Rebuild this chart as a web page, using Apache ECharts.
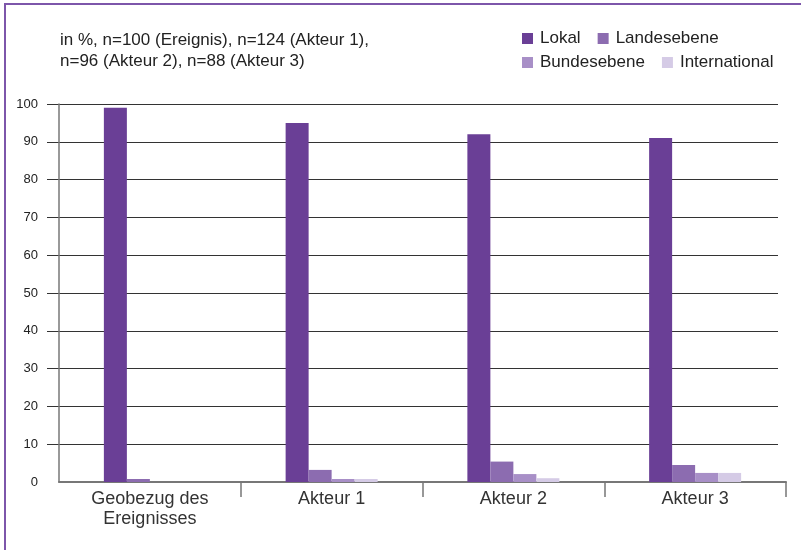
<!DOCTYPE html>
<html><head><meta charset="utf-8">
<script src="https://cdn.jsdelivr.net/npm/echarts@6/dist/echarts.min.js"></script>
<style>html,body{margin:0;padding:0;background:#fff}#c{width:801px;height:550px}</style>
</head><body><div id="c"></div>
<script>
const categories = ['Geobezug des\nEreignisses', 'Akteur 1', 'Akteur 2', 'Akteur 3'];
const seriesNames = ['Lokal', 'Landesebene', 'Bundesebene', 'International'];
const lokal = [99, 95, 92, 91];
const landesebene = [0.8, 3.2, 5.4, 4.5];
const bundesebene = [0, 0.8, 2.1, 2.4];
const international = [0, 0.8, 1.0, 2.4];
const yTicks = [0, 10, 20, 30, 40, 50, 60, 70, 80, 90, 100];
const subtitle = 'in %, n=100 (Ereignis), n=124 (Akteur 1),\nn=96 (Akteur 2), n=88 (Akteur 3)';

const colors = ['#6a3f96', '#8c6cb0', '#a88fc7', '#d5cbe6'];
const values = [lokal, landesebene, bundesebene, international];
const FONT = 'Liberation Sans';

const chart = echarts.init(document.getElementById('c'), null, {renderer: 'canvas'});
chart.setOption({
  animation: false,
  color: colors,
  textStyle: {fontFamily: FONT},
  title: {
    text: subtitle, left: 60, top: 30, padding: 0,
    textStyle: {fontFamily: FONT, fontSize: 17, fontWeight: 'normal', color: '#222', lineHeight: 21}
  },
  legend: [
    {data: seriesNames.slice(0, 2), left: 522, top: 30, padding: 0, itemWidth: 11, itemHeight: 11, itemGap: 17, icon: 'rect',
     textStyle: {fontFamily: FONT, fontSize: 17, color: '#222', padding: [0, 0, 0, 2]}},
    {data: seriesNames.slice(2, 4), left: 522, top: 54, padding: 0, itemWidth: 11, itemHeight: 11, itemGap: 17, icon: 'rect',
     textStyle: {fontFamily: FONT, fontSize: 17, color: '#222', padding: [0, 0, 0, 2]}}
  ],
  graphic: [{
    type: 'polyline', shape: {points: [[5, 550], [5, 4], [801, 4]]},
    style: {stroke: '#7d56aa', lineWidth: 2, fill: null}, silent: true
  }],
  grid: [
    {left: 59, right: 15, top: 104, bottom: 68},
    {left: 47, right: 23, top: 104, bottom: 105.8}
  ],
  xAxis: [
    {type: 'category', data: categories, gridIndex: 0,
     axisLine: {show: true, lineStyle: {color: '#777', width: 2}},
     axisTick: {show: true, length: 15, lineStyle: {color: '#777', width: 1.5}, interval: (i) => i !== 0},
     axisLabel: {fontFamily: FONT, fontSize: 18, color: '#333', margin: 7, lineHeight: 20, interval: 0}},
    {type: 'category', data: categories, gridIndex: 1, show: false}
  ],
  yAxis: [
    {type: 'value', gridIndex: 0, min: 0, max: 100, interval: 10,
     axisLine: {show: true, lineStyle: {color: '#777', width: 1.5}},
     axisTick: {show: false},
     splitLine: {show: false},
     axisLabel: {fontFamily: FONT, fontSize: 13, color: '#222', margin: 21,
       formatter: v => yTicks.includes(v) ? String(v) : ''}},
    {type: 'value', gridIndex: 1, min: 10, max: 100, interval: 10,
     axisLine: {show: false}, axisTick: {show: false}, axisLabel: {show: false},
     splitLine: {show: true, lineStyle: {color: '#333', width: 1.2}}}
  ],
  series: seriesNames.map((n, i) => ({
    name: n, type: 'bar', data: values[i], xAxisIndex: 0, yAxisIndex: 0,
    barWidth: 23, barGap: '0%', z: 3, itemStyle: {color: colors[i]}
  }))
});
</script></body></html>
